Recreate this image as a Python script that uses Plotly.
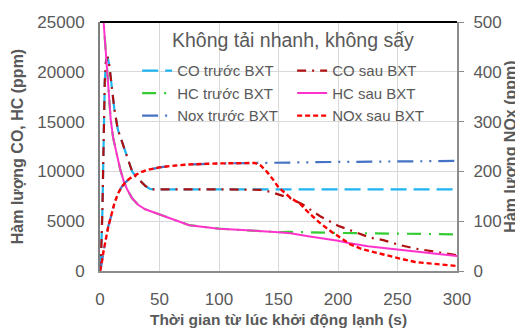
import plotly.graph_objects as go

# ---------------- data ----------------
t_co_before = [0, 1, 2, 3, 4, 5, 6.5, 8, 9.5, 12, 15, 18, 21, 24, 27, 30, 34, 38, 42, 45,
               100, 150, 200, 250, 300]
co_before = [0, 2000, 6000, 13000, 19000, 21000, 21500, 20500, 19000, 16300, 14200, 13100,
             12000, 10900, 10000, 9500, 9000, 8550, 8250, 8200, 8200, 8200, 8200, 8200, 8200]

t_co_after = [0, 1, 2, 3, 4, 5, 6.5, 8, 9.5, 12, 15, 18, 21, 24, 27, 30, 34, 38, 42, 45,
              100, 130, 135, 143, 150, 160, 170, 176, 185, 200, 215, 227, 238, 252, 265,
              280, 300]
co_after = [0, 2000, 6000, 13000, 19000, 21000, 21500, 20500, 19000, 16300, 14200, 13100,
            12000, 10900, 10000, 9500, 9000, 8550, 8250, 8200, 8200, 8200, 8150, 7950, 7700,
            7300, 6700, 6250, 5500, 4550, 3850, 3350, 3100, 2600, 2250, 1950, 1580]

t_hc_before = [0, 2, 3, 5, 7, 9, 11, 14, 17, 20, 23, 27, 32, 38, 45, 55, 65, 75, 100, 125,
               150, 160, 175, 200, 250, 300]
hc_before = [30000, 26500, 24500, 21500, 18500, 15200, 13400, 11800, 10200, 9000, 8150, 7300,
             6650, 6200, 5900, 5400, 5000, 4600, 4250, 4100, 3900, 3920, 3870, 3820, 3750, 3680]

t_hc_after = [0, 2, 3, 5, 7, 9, 11, 14, 17, 20, 23, 27, 32, 38, 45, 55, 65, 75, 100, 125,
              150, 160, 168, 175, 200, 210, 225, 252, 275, 300]
hc_after = [30000, 26500, 24500, 21500, 18500, 15200, 13400, 11800, 10200, 9000, 8150, 7300,
            6650, 6200, 5900, 5400, 5000, 4600, 4250, 4100, 3900, 3780, 3610, 3480, 3040,
            2780, 2480, 2110, 1800, 1500]

t_nox_before = [0, 1, 3, 5, 7, 9.5, 12, 15, 18, 21, 25, 30, 35, 40, 50, 60, 75, 100, 125,
                130, 150, 200, 250, 300]
nox_before = [0, 10, 40, 67, 90, 112, 135, 155, 168, 177, 186, 193, 199, 203, 208, 211, 214,
              216, 217, 217, 218, 219, 220, 221]

t_nox_after = [0, 1, 3, 5, 7, 9.5, 12, 15, 18, 21, 25, 30, 35, 40, 50, 60, 75, 100, 125,
               130, 135, 140, 145, 150, 160, 168, 175, 185, 195, 200, 210, 220, 230, 240,
               252, 265, 280, 300]
nox_after = [0, 10, 40, 67, 90, 112, 135, 155, 168, 177, 186, 193, 199, 203, 208, 211, 214,
             216, 217, 217, 212, 200, 185, 168, 147, 135, 118, 96, 78, 70, 54, 44, 38, 31,
             25, 18, 14, 10]

x_ticks = [0, 50, 100, 150, 200, 250, 300]
y_ticks = [0, 5000, 10000, 15000, 20000, 25000]
y2_ticks = [0, 100, 200, 300, 400, 500]

title_text = "Không tải nhanh, không sấy"
x_title = "Thời gian từ lúc khởi động lạnh (s)"
y_title = "Hàm lượng CO, HC (ppm)"
y2_title = "Hàm lượng NOx (ppm)"

FONT = "Liberation Sans"
GREY = "#595959"

fig = go.Figure()
fig.add_trace(go.Scatter(x=t_co_before, y=co_before, mode="lines", name="CO trước BXT",
                         line=dict(color="#1EB4F0", width=2.2, dash="16px,7px")))
fig.add_trace(go.Scatter(x=t_co_after, y=co_after, mode="lines", name="CO sau BXT",
                         line=dict(color="#B01010", width=2.2, dash="9px,6px,2px,6px")))
fig.add_trace(go.Scatter(x=t_hc_before, y=hc_before, mode="lines", name="HC trước BXT",
                         line=dict(color="#33CC33", width=2.2, dash="14px,8px,2px,8px")))
fig.add_trace(go.Scatter(x=t_hc_after, y=hc_after, mode="lines", name="HC sau BXT",
                         line=dict(color="#FF33CC", width=2)))
fig.add_trace(go.Scatter(x=t_nox_before, y=nox_before, mode="lines", name="Nox trước BXT",
                         yaxis="y2",
                         line=dict(color="#4472C4", width=2.2,
                                   dash="16px,7px,2px,7px,2px,7px")))
fig.add_trace(go.Scatter(x=t_nox_after, y=nox_after, mode="lines", name="NOx sau BXT",
                         yaxis="y2",
                         line=dict(color="#FF0000", width=2.4, dash="5px,3px")))

# page body has an 8px margin, so the figure is sized to fit the 523x329 window
fig.update_layout(
    width=515, height=321,
    margin=dict(l=92, r=66, t=14, b=58),
    paper_bgcolor="white", plot_bgcolor="white",
    font=dict(family=FONT, color=GREY, size=17),
    showlegend=True,
    legend=dict(orientation="h", x=0.104, y=0.87, xanchor="left", yanchor="top",
                bgcolor="rgba(0,0,0,0)", font=dict(size=15, color=GREY),
                entrywidth=110, entrywidthmode="pixels"),
    xaxis=dict(range=[0, 300], tickvals=x_ticks, ticktext=[str(v) for v in x_ticks],
               showgrid=True, gridcolor="#D9D9D9",
               gridwidth=1, showline=True, linecolor="#8C8C8C", linewidth=2,
               zeroline=False, ticks="", ticklabelstandoff=12, automargin=False,
               title=dict(text=x_title, font=dict(size=15.5, color=GREY, weight="bold"),
                          standoff=6)),
    yaxis=dict(range=[0, 25000], tickvals=y_ticks, ticktext=[str(v) for v in y_ticks],
               showgrid=True, gridcolor="#D9D9D9",
               gridwidth=1, showline=True, linecolor="#7F7F7F", linewidth=2,
               zeroline=False, ticks="", ticklabelstandoff=10, automargin=False,
               title=dict(text=y_title, font=dict(size=16, color=GREY, weight="bold"),
                          standoff=10)),
    yaxis2=dict(range=[0, 500], tickvals=y2_ticks, ticktext=[str(v) for v in y2_ticks],
                overlaying="y", side="right",
                showgrid=False, showline=True, linecolor="#8C8C8C", linewidth=2,
                zeroline=False, ticks="outside", ticklen=5, tickcolor="#8C8C8C",
                ticklabelstandoff=6, automargin=False,
                title=dict(text=y2_title, font=dict(size=16, color=GREY, weight="bold"),
                           standoff=4)),
    annotations=[dict(text=title_text, xref="paper", yref="paper", x=0.542, y=0.928,
                      xanchor="center", yanchor="middle", showarrow=False,
                      font=dict(size=19.5, color=GREY))],
    shapes=[dict(type="line", xref="paper", yref="paper", x0=0, x1=1, y0=1, y1=1,
                 line=dict(color="black", width=2))],
)

fig.write_html("out.html")
